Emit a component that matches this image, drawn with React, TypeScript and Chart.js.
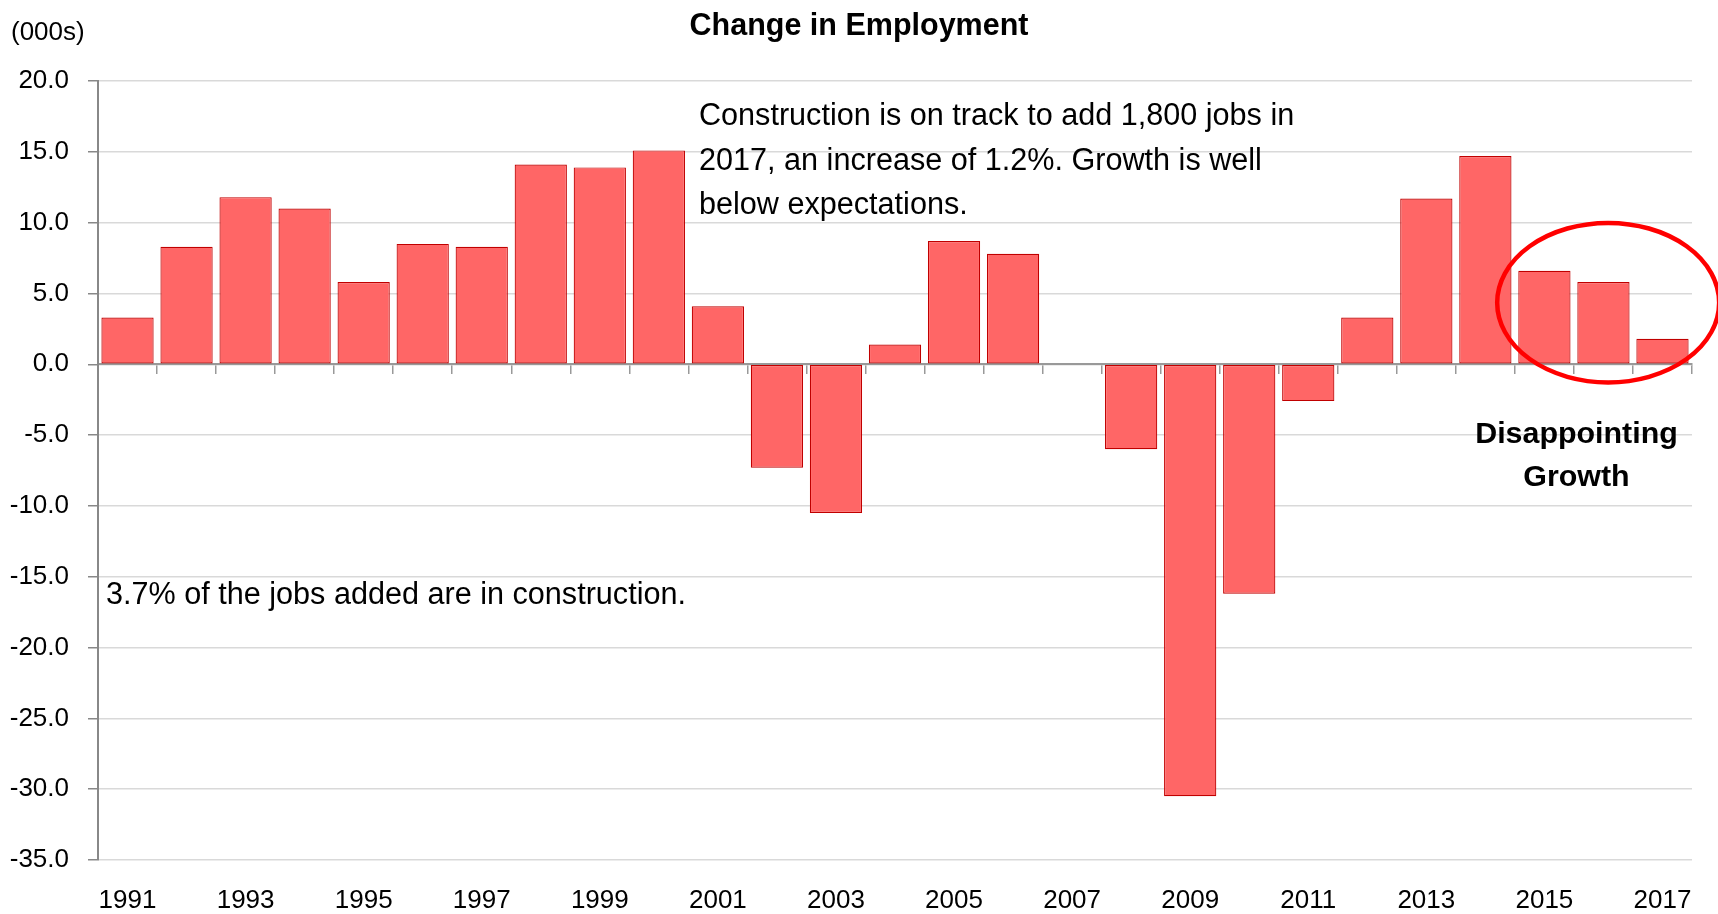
import { useEffect, useRef } from 'react';
import { Chart, registerables } from 'chart.js';

Chart.register(...registerables);

// ---------- data ----------
const years = [
  '1991', '1992', '1993', '1994', '1995', '1996', '1997', '1998', '1999',
  '2000', '2001', '2002', '2003', '2004', '2005', '2006', '2007', '2008',
  '2009', '2010', '2011', '2012', '2013', '2014', '2015', '2016', '2017',
];
const employmentChange = [
  3.3, 8.3, 11.8, 11.0, 5.8, 8.5, 8.3, 14.1, 13.9,
  15.1, 4.1, -7.3, -10.5, 1.4, 8.7, 7.8, 0, -6.0,
  -30.5, -16.2, -2.6, 3.3, 11.7, 14.7, 6.6, 5.8, 1.8,
];
const yMin = -35;
const yMax = 20;
const yStep = 5;

const titleText = 'Change in Employment';
const unitLabel = '(000s)';
const noteTop = [
  'Construction is on track to add 1,800 jobs in',
  '2017, an increase of 1.2%. Growth is well',
  'below expectations.',
];
const noteBottom = '3.7% of the jobs added are in construction.';
const calloutLines = ['Disappointing', 'Growth'];
// highlighted region (category index centre, value centre, radii in categories / units)
const highlight = { index: 25.08, value: 4.35, rIndex: 1.88, rValue: 5.63 };

const FONT = '"Liberation Sans", Arial, Helvetica, sans-serif';

const overlayPlugin = {
  id: 'overlay',
  afterDraw(chart: any) {
    const { ctx, scales } = chart;
    const xs = scales.x;
    const ys = scales.y;
    ctx.save();

    // ellipse around the last three years
    const catW = xs.getPixelForValue(1) - xs.getPixelForValue(0);
    const cx = xs.getPixelForValue(0) + highlight.index * catW;
    const cy = ys.getPixelForValue(highlight.value);
    const rx = highlight.rIndex * catW;
    const ry = Math.abs(ys.getPixelForValue(highlight.value + highlight.rValue) - cy);
    ctx.beginPath();
    ctx.ellipse(cx, cy, rx, ry, 0, 0, Math.PI * 2);
    ctx.strokeStyle = '#FF0000';
    ctx.lineWidth = 4.5;
    ctx.stroke();

    ctx.fillStyle = '#000';
    ctx.textBaseline = 'alphabetic';

    // title
    ctx.font = `bold 30.5px ${FONT}`;
    ctx.textAlign = 'center';
    ctx.fillText(titleText, chart.width / 2, 35);

    // unit label
    ctx.font = `26px ${FONT}`;
    ctx.textAlign = 'left';
    ctx.fillText(unitLabel, 11, 40);

    // top note
    ctx.font = `30.6px ${FONT}`;
    noteTop.forEach((line, i) => {
      ctx.fillText(line, 699, 125 + i * 44.5);
    });

    // bottom note
    ctx.fillText(noteBottom, 106, 604);

    // callout
    ctx.font = `bold 30.4px ${FONT}`;
    ctx.textAlign = 'center';
    calloutLines.forEach((line, i) => {
      ctx.fillText(line, 1576.5, 443 + i * 43);
    });

    ctx.restore();
  },
};

export default function App() {
  const canvasRef = useRef<HTMLCanvasElement | null>(null);

  useEffect(() => {
    document.body.style.margin = '0';
    const canvas = canvasRef.current;
    if (!canvas) return;

    const chart = new Chart(canvas, {
      type: 'bar',
      data: {
        labels: years,
        datasets: [
          {
            label: 'Change in Employment',
            data: employmentChange,
            backgroundColor: '#FF6666',
            borderColor: '#C00000',
            borderWidth: 1.2,
            borderSkipped: false,
            barPercentage: 0.885,
            categoryPercentage: 1.0,
            xAxisID: 'x',
            yAxisID: 'y',
          },
        ],
      },
      options: {
        responsive: false,
        maintainAspectRatio: false,
        animation: false,
        devicePixelRatio: 1,
        layout: { padding: { top: 81, right: 26, left: 0, bottom: 0 } },
        plugins: {
          legend: { display: false },
          tooltip: { enabled: false },
          title: { display: false },
        },
        scales: {
          x: {
            type: 'category',
            position: 'bottom',
            offset: true,
            grid: { display: false, drawTicks: false, offset: true },
            border: { display: false },
            ticks: {
              autoSkip: false,
              maxRotation: 0,
              minRotation: 0,
              padding: 25,
              color: '#000',
              font: { family: FONT, size: 26 },
              callback: function (this: any, value: any, index: number) {
                return index % 2 === 0 ? this.getLabelForValue(value) : '';
              },
            },
            afterFit: (scale: any) => {
              scale.height = 54;
            },
          },
          x0: {
            type: 'category',
            axis: 'x',
            position: { y: 0 },
            offset: true,
            z: 1,
            grid: {
              display: true,
              offset: true,
              drawOnChartArea: false,
              drawTicks: true,
              tickLength: 9,
              color: '#999999',
              tickColor: '#999999',
              lineWidth: 1.5,
              tickWidth: 1.5,
            },
            border: { display: true, color: '#999999', width: 2 },
            ticks: { display: false },
          },
          y: {
            type: 'linear',
            position: 'left',
            min: yMin,
            max: yMax,
            ticks: {
              stepSize: yStep,
              padding: 19,
              color: '#000',
              font: { family: FONT, size: 26 },
              callback: (v: any) => Number(v).toFixed(1),
            },
            grid: {
              color: '#D9D9D9',
              lineWidth: 1.5,
              drawTicks: true,
              tickLength: 10,
              tickColor: '#888888',
              tickWidth: 1.5,
            },
            border: { display: true, color: '#888888', width: 2 },
            afterFit: (scale: any) => {
              scale.width = 98;
            },
          },
        },
      } as any,
      plugins: [overlayPlugin],
    });

    return () => {
      chart.destroy();
    };
  }, []);

  return (
    <canvas
      ref={canvasRef}
      width={1718}
      height={914}
      style={{ display: 'block', width: 1718, height: 914 }}
    />
  );
}
